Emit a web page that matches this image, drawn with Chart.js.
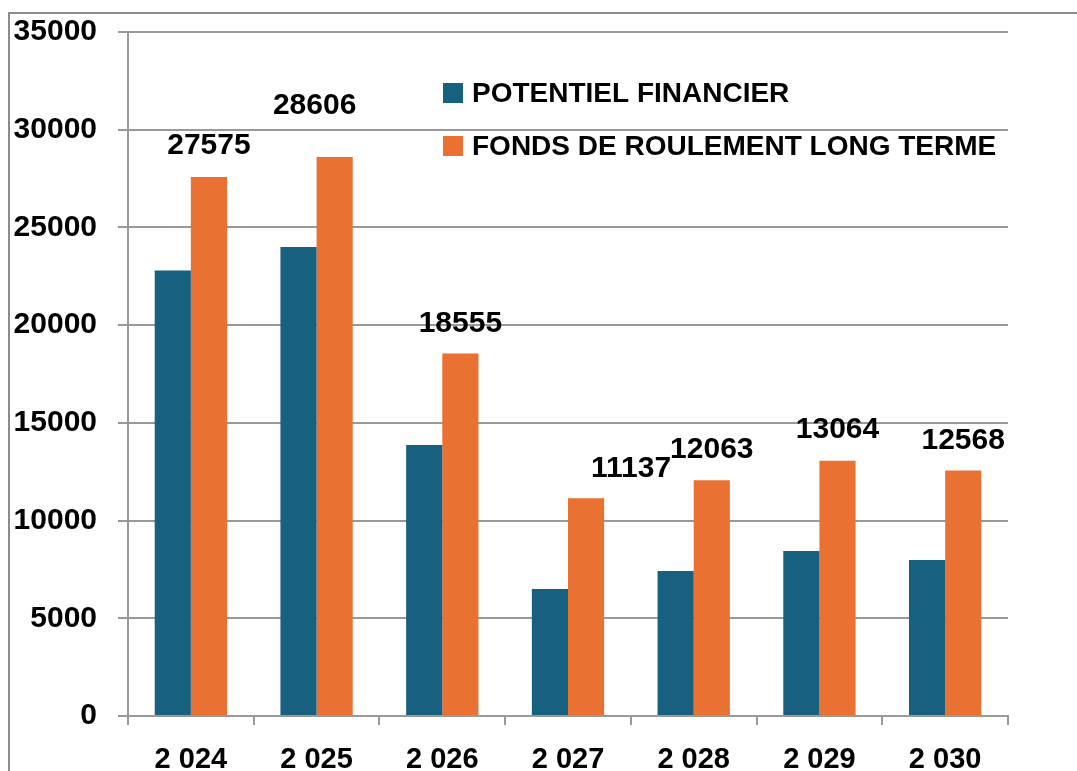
<!DOCTYPE html>
<html>
<head>
<meta charset="utf-8">
<script src="https://cdn.jsdelivr.net/npm/chart.js@4/dist/chart.umd.min.js"></script>
<style>
  html, body { margin: 0; padding: 0; background: #fff; }
  #wrap { width: 1077px; height: 771px; position: relative; }
</style>
</head>
<body>
<div id="wrap"><canvas id="graficoFinances"></canvas></div>
<script>
// Données
const annees = ['2 024', '2 025', '2 026', '2 027', '2 028', '2 029', '2 030'];
const potentielFinancier = [22800, 24000, 13870, 6500, 7420, 8440, 7980];
const fondsRoulement = [27575, 28606, 18555, 11137, 12063, 13064, 12568];
const ticksY = [0, 5000, 10000, 15000, 20000, 25000, 30000, 35000];

const bleu = '#17607f';
const orange = '#e97132';
const gris = '#999999';
const police = '"Liberation Sans", Arial, sans-serif';

// décalage des étiquettes (dx, dy) par rapport au haut de la barre orange
const decalEtiquettes = [[0, -31], [-20, -51], [0, -30], [45, -30], [0, -31], [0, -31], [0, -30]];

// Cadre gris autour du graphique
const cadre = {
  id: 'cadre',
  afterDraw(chart) {
    const c = chart.ctx;
    c.save();
    c.strokeStyle = '#8c8c8c';
    c.lineWidth = 2;
    c.beginPath();
    c.moveTo(9, 771);
    c.lineTo(9, 13);
    c.lineTo(1077, 13);
    c.stroke();
    c.restore();
  }
};

// Valeurs au-dessus des barres orange
const etiquettes = {
  id: 'etiquettes',
  afterDatasetsDraw(chart) {
    const c = chart.ctx;
    const meta = chart.getDatasetMeta(1);
    c.save();
    c.font = 'bold 30px ' + police;
    c.fillStyle = '#000';
    c.textAlign = 'center';
    c.textBaseline = 'middle';
    meta.data.forEach((bar, i) => {
      const d = decalEtiquettes[i];
      c.fillText(String(fondsRoulement[i]), bar.x + d[0], bar.y + d[1]);
    });
    c.restore();
  }
};

// Légende dessinée dans la zone du graphique
const legende = {
  id: 'legende',
  afterDraw(chart) {
    const c = chart.ctx;
    const items = [
      { texte: 'POTENTIEL FINANCIER', couleur: bleu, y: 93 },
      { texte: 'FONDS DE ROULEMENT LONG TERME', couleur: orange, y: 146 }
    ];
    c.save();
    c.font = 'bold 28px ' + police;
    c.textBaseline = 'middle';
    c.textAlign = 'left';
    items.forEach(it => {
      c.fillStyle = it.couleur;
      c.fillRect(443, it.y - 10, 20, 20);
      c.fillStyle = '#000';
      c.fillText(it.texte, 472, it.y + 1);
    });
    c.restore();
  }
};

const ctx = document.getElementById('graficoFinances').getContext('2d');
new Chart(ctx, {
  type: 'bar',
  data: {
    labels: annees,
    datasets: [
      {
        label: 'POTENTIEL FINANCIER',
        data: potentielFinancier,
        backgroundColor: bleu
      },
      {
        label: 'FONDS DE ROULEMENT LONG TERME',
        data: fondsRoulement,
        backgroundColor: orange
      }
    ]
  },
  options: {
    responsive: true,
    maintainAspectRatio: false,
    animation: false,
    layout: { padding: { top: 32, right: 69, bottom: 0, left: 0 } },
    datasets: { bar: { categoryPercentage: 0.575, barPercentage: 1 } },
    plugins: {
      legend: { display: false },
      tooltip: { enabled: false }
    },
    scales: {
      x: {
        grid: {
          offset: true,
          drawOnChartArea: false,
          drawTicks: true,
          tickLength: 9,
          color: gris,
          lineWidth: 2
        },
        border: { color: gris, width: 2 },
        ticks: {
          color: '#000',
          padding: 18,
          font: { family: police, size: 29, weight: 'bold' }
        },
        afterFit(axis) {
          axis.height = 55;
          axis.paddingLeft = 0;
          axis.paddingRight = 0;
        }
      },
      y: {
        min: 0,
        max: 35000,
        afterBuildTicks(axis) { axis.ticks = ticksY.map(v => ({ value: v })); },
        grid: {
          color: gris,
          lineWidth: 2,
          drawTicks: true,
          tickLength: 10
        },
        border: { color: gris, width: 2 },
        ticks: {
          color: '#000',
          padding: 21,
          font: { family: police, size: 30, weight: 'bold' },
          callback: v => String(v)
        },
        afterFit(axis) {
          axis.width = 128;
          axis.paddingTop = 0;
          axis.paddingBottom = 0;
        }
      }
    }
  },
  plugins: [cadre, etiquettes, legende]
});
</script>
</body>
</html>
